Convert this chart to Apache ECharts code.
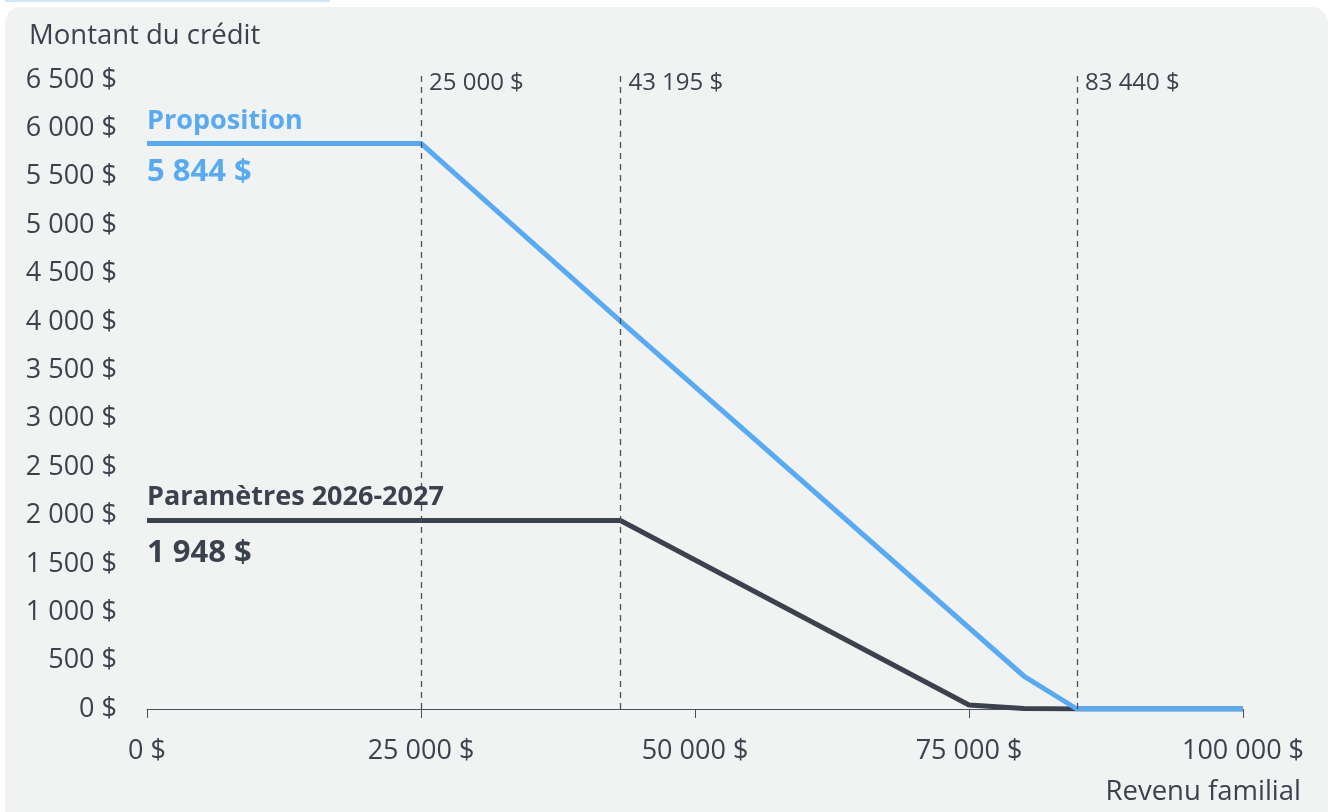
<!DOCTYPE html>
<html><head><meta charset="utf-8">
<script src="https://cdn.jsdelivr.net/npm/echarts@6/dist/echarts.min.js"></script>
<style>html,body{margin:0;padding:0;background:#fff}#c{width:1333px;height:812px}</style>
</head><body><div id="c"></div>
<script>
// Data
const propositionPoints = [[0,5844],[25000,5844],[43195,4008],[80000,341],[84850,0],[100000,0]];
const parametresPoints = [[0,1948],[43195,1948],[75000,41],[80000,5],[84850,0],[100000,0]];
const thresholdPositions = [25000, 43195, 84850];
const thresholdLabels = ['25 000 $', '43 195 $', '83 440 $'];
const seriesNames = ['Proposition', 'Paramètres 2026-2027'];
const seriesStartLabels = ['5 844 $', '1 948 $'];

const BLUE = '#57aaf4', DARK = '#3b424d', TXT = '#3b424d';
const FONT = '"Open Sans", sans-serif';
function fmt(v){ return String(v).replace(/\B(?=(\d{3})+(?!\d))/g, ' ') + ' $'; }

const chart = echarts.init(document.getElementById('c'));
chart.setOption({
  animation: false,
  backgroundColor: '#ffffff',
  textStyle: { fontFamily: FONT },
  graphic: [
    { type: 'rect', left: 5, top: 7, shape: { width: 1323, height: 830, r: 16 }, style: { fill: '#f1f3f3' }, z: -10 },
    { type: 'rect', left: 5, top: 0, shape: { width: 325, height: 2 }, style: { fill: '#cfe6fb' }, z: -10 }
  ],
  title: [
    { text: 'Montant du crédit', left: 24, top: 17, textStyle: { fontFamily: FONT, fontSize: 27.5, fontWeight: 'normal', color: TXT } },
    { text: 'Revenu familial', right: 27, top: 773, textStyle: { fontFamily: FONT, fontSize: 27.5, fontWeight: 'normal', color: TXT } }
  ],
  grid: { left: 147, right: 90, top: 71, bottom: 103, containLabel: false },
  xAxis: {
    type: 'value', min: 0, max: 100000, interval: 25000,
    axisLine: { show: true, lineStyle: { color: '#4a515c', width: 1 } },
    axisTick: { show: true, length: 9, lineStyle: { color: '#4a515c' } },
    splitLine: { show: false },
    axisLabel: { fontFamily: FONT, fontSize: 27, color: TXT, margin: 29, formatter: fmt }
  },
  yAxis: {
    type: 'value', min: 0, max: 6593, interval: 500,
    axisLine: { show: false }, axisTick: { show: false }, splitLine: { show: false },
    axisLabel: { fontFamily: FONT, fontSize: 27, color: TXT, margin: 30, formatter: fmt, showMaxLabel: false }
  },
  series: [
    {
      name: 'thresholds', type: 'scatter', symbolSize: 0, silent: true,
      itemStyle: { opacity: 1 },
      data: thresholdPositions.map((x, i) => ({ value: [x, 6500], label: { formatter: thresholdLabels[i] } })),
      label: { show: true, position: 'right', distance: 8, offset: [0, 3], fontFamily: FONT, fontSize: 24, color: TXT },
      markLine: {
        silent: true, symbol: 'none',
        lineStyle: { color: '#4a515c', type: [6, 5], width: 1.3 },
        label: { show: false },
        data: thresholdPositions.map(x => ({ xAxis: x }))
      }
    },
    {
      name: seriesNames[1], type: 'line', data: parametresPoints, showSymbol: false, symbol: 'none',
      lineStyle: { color: DARK, width: 5 }, itemStyle: { color: DARK }, z: 3,
      markPoint: {
        symbol: 'circle', symbolSize: 0, silent: true,
        label: { show: true, position: 'right', distance: 0, fontFamily: FONT, fontWeight: 'bold', color: DARK },
        data: [
          { coord: [0, 1948], label: { formatter: seriesNames[1], fontSize: 27, offset: [0, -23] } },
          { coord: [0, 1948], label: { formatter: seriesStartLabels[1], fontSize: 31, offset: [0, 33] } }
        ]
      }
    },
    {
      name: seriesNames[0], type: 'line', data: propositionPoints, showSymbol: false, symbol: 'none',
      lineStyle: { color: BLUE, width: 5 }, itemStyle: { color: BLUE }, z: 4,
      markPoint: {
        symbol: 'circle', symbolSize: 0, silent: true,
        label: { show: true, position: 'right', distance: 0, fontFamily: FONT, fontWeight: 'bold', color: BLUE },
        data: [
          { coord: [0, 5844], label: { formatter: seriesNames[0], fontSize: 27, offset: [0, -22] } },
          { coord: [0, 5844], label: { formatter: seriesStartLabels[0], fontSize: 31, offset: [0, 29] } }
        ]
      }
    }
  ]
});
</script></body></html>
